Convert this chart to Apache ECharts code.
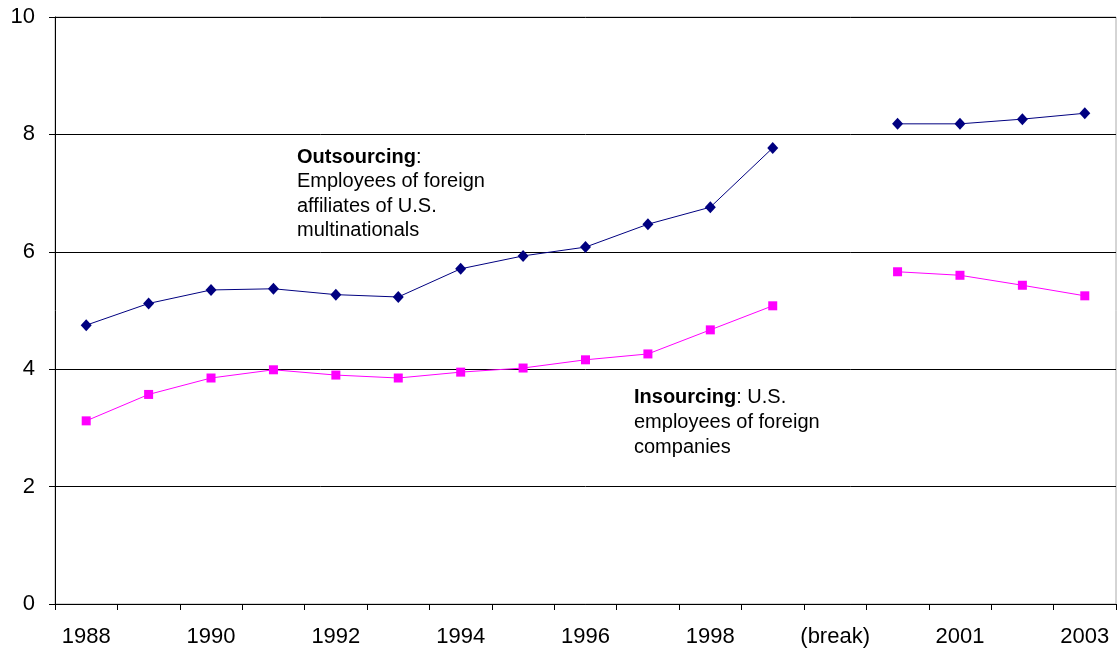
<!DOCTYPE html>
<html>
<head>
<meta charset="utf-8">
<script src="https://cdn.jsdelivr.net/npm/echarts@6/dist/echarts.min.js"></script>
<style>
    html, body { margin: 0; padding: 0; background: #fff; }
    #chart { width: 1117px; height: 653px; }
</style>
</head>
<body>
<div id="chart"></div>
<script>
    // categories along the x axis, with a gap slot for the series break
    const years = ['1988', '1989', '1990', '1991', '1992', '1993', '1994', '1995', '1996',
        '1997', '1998', '1999', '(break)', '2000', '2001', '2002', '2003']
    // employees of foreign affiliates of U.S. multinationals (millions)
    const outsourcing = [4.75, 5.12, 5.35, 5.37, 5.27, 5.23, 5.71, 5.93, 6.08, 6.47, 6.76, 7.77,
        null, 8.18, 8.18, 8.26, 8.36]
    // U.S. employees of foreign companies (millions)
    const insourcing = [3.12, 3.57, 3.85, 3.99, 3.90, 3.85, 3.95, 4.02, 4.16, 4.26, 4.67, 5.08,
        null, 5.66, 5.60, 5.43, 5.25]
    const yTicks = [0, 2, 4, 6, 8, 10]

    let chart = echarts.init(document.getElementById('chart'))
    let font = 'Liberation Sans, Arial, sans-serif'
    let options = {
        animation: false,
        textStyle: { fontFamily: font },
        grid: {
            left: 55,
            right: 1,
            top: 17,
            bottom: 49,
            show: true,
            borderColor: '#aaa',
            borderWidth: 1
        },
        xAxis: {
            type: 'category',
            data: years,
            boundaryGap: true,
            axisLine: { lineStyle: { color: '#000', width: 1 } },
            axisTick: { show: true, interval: 0, length: 6, lineStyle: { color: '#000' } },
            axisLabel: {
                interval: 1,
                color: '#000',
                fontSize: 22,
                margin: 22
            },
            splitLine: { show: false }
        },
        yAxis: {
            type: 'value',
            min: yTicks[0],
            max: yTicks[yTicks.length - 1],
            interval: 2,
            axisLine: { show: true, lineStyle: { color: '#000', width: 1 } },
            axisTick: { show: true, length: 6, lineStyle: { color: '#000' } },
            axisLabel: { color: '#000', fontSize: 22, margin: 20 },
            splitLine: { show: true, lineStyle: { color: '#000', width: 1 } }
        },
        series: [
            {
                name: 'Outsourcing',
                type: 'line',
                data: outsourcing,
                connectNulls: false,
                symbol: 'diamond',
                symbolSize: [11, 12],
                itemStyle: { color: '#000080' },
                lineStyle: { color: '#000080', width: 1 }
            },
            {
                name: 'Insourcing',
                type: 'line',
                data: insourcing,
                connectNulls: false,
                symbol: 'rect',
                symbolSize: 9,
                itemStyle: { color: '#ff00ff' },
                lineStyle: { color: '#ff00ff', width: 1 }
            }
        ],
        graphic: [
            {
                type: 'text',
                left: 297,
                top: 145,
                style: {
                    text: '{b|Outsourcing}:\nEmployees of foreign\naffiliates of U.S.\nmultinationals',
                    font: '20px ' + font,
                    fill: '#000',
                    lineHeight: 24.5,
                    rich: { b: { fontWeight: 'bold', fontSize: 20, fontFamily: font, lineHeight: 24.5 } }
                }
            },
            {
                type: 'text',
                left: 634,
                top: 385,
                style: {
                    text: '{b|Insourcing}: U.S.\nemployees of foreign\ncompanies',
                    font: '20px ' + font,
                    fill: '#000',
                    lineHeight: 25,
                    rich: { b: { fontWeight: 'bold', fontSize: 20, fontFamily: font, lineHeight: 25 } }
                }
            }
        ]
    }
    chart.setOption(options)
</script>
</body>
</html>
